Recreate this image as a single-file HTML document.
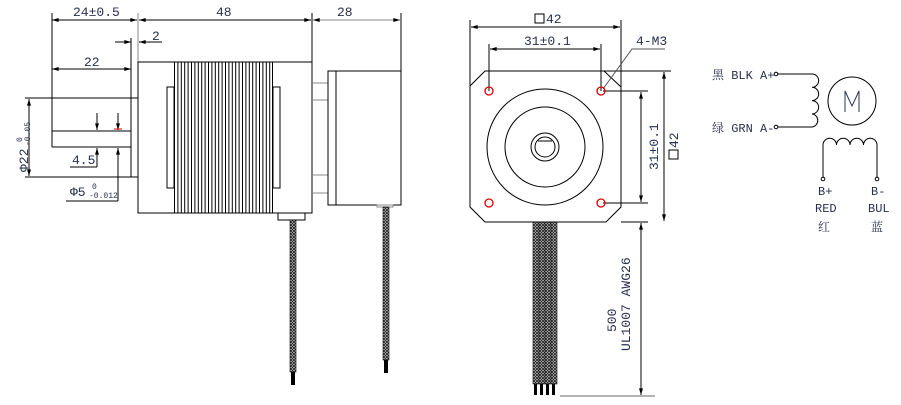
<!DOCTYPE html>
<html><head><meta charset="utf-8"><style>
html,body{margin:0;padding:0;background:#fff;width:901px;height:405px;overflow:hidden}
text{font-family:"Liberation Mono","Noto Serif CJK SC",monospace;fill:#2a3050}
</style></head><body>
<svg width="901" height="405" viewBox="0 0 901 405" xmlns="http://www.w3.org/2000/svg">
<defs>
<pattern id="br" width="3" height="3" patternUnits="userSpaceOnUse">
<rect width="3" height="3" fill="#ddd"/>
<path d="M0,0L3,3M3,0L0,3" stroke="#222" stroke-width="0.9"/>
</pattern>
<marker id="a" viewBox="0 0 10 6" refX="10" refY="3" markerWidth="8" markerHeight="4" orient="auto-start-reverse"><path d="M0,0L10,3L0,6z" fill="#000"/></marker>
</defs>
<g stroke="#000" stroke-width="1" fill="none">
<line x1="52" y1="13" x2="52" y2="147"/>
<line x1="138" y1="13" x2="138" y2="62" stroke="#888"/>
<line x1="312" y1="13" x2="312" y2="62"/>
<line x1="401" y1="13" x2="401" y2="71"/>
<line x1="52" y1="20" x2="137" y2="20" marker-start="url(#a)" marker-end="url(#a)"/>
<line x1="139" y1="20" x2="311" y2="20" marker-start="url(#a)" marker-end="url(#a)"/>
<line x1="313" y1="20" x2="400" y2="20" marker-start="url(#a)" marker-end="url(#a)" stroke="#888"/>
<line x1="115" y1="42" x2="131" y2="42" marker-end="url(#a)"/>
<line x1="162" y1="42" x2="139" y2="42" marker-end="url(#a)"/>
<line x1="131" y1="38" x2="131" y2="177"/>
<line x1="52" y1="69" x2="131" y2="69" marker-start="url(#a)" marker-end="url(#a)"/>
<line x1="52" y1="131" x2="131" y2="131"/>
<line x1="52" y1="147" x2="131" y2="147"/>
<line x1="25" y1="98" x2="138" y2="98"/>
<line x1="25" y1="177" x2="138" y2="177"/>
<line x1="29" y1="99" x2="29" y2="176" marker-start="url(#a)" marker-end="url(#a)"/>
<line x1="97" y1="113" x2="97" y2="130" marker-end="url(#a)"/>
<line x1="97" y1="167" x2="97" y2="148" marker-end="url(#a)"/>
<line x1="70" y1="167" x2="97" y2="167"/>
<line x1="118" y1="113" x2="118" y2="130" marker-end="url(#a)"/>
<line x1="118" y1="201" x2="118" y2="148" marker-end="url(#a)"/>
<line x1="66" y1="201" x2="118" y2="201"/>
<line x1="114" y1="129" x2="122" y2="129" stroke="#d00"/>
<rect x="138" y="62" width="174" height="151"/>
<rect x="167" y="87" width="7" height="101"/>
<rect x="273" y="87" width="7" height="101"/>
<g>
<line x1="174.5" y1="62" x2="174.5" y2="213"/><line x1="177.9" y1="62" x2="177.9" y2="213"/><line x1="181.3" y1="62" x2="181.3" y2="213"/><line x1="184.7" y1="62" x2="184.7" y2="213"/><line x1="188.1" y1="62" x2="188.1" y2="213"/><line x1="191.5" y1="62" x2="191.5" y2="213"/><line x1="194.9" y1="62" x2="194.9" y2="213"/><line x1="198.3" y1="62" x2="198.3" y2="213"/><line x1="201.7" y1="62" x2="201.7" y2="213"/><line x1="205.1" y1="62" x2="205.1" y2="213"/><line x1="208.5" y1="62" x2="208.5" y2="213"/><line x1="211.9" y1="62" x2="211.9" y2="213"/><line x1="215.3" y1="62" x2="215.3" y2="213"/><line x1="218.7" y1="62" x2="218.7" y2="213"/><line x1="222.1" y1="62" x2="222.1" y2="213"/><line x1="225.5" y1="62" x2="225.5" y2="213"/><line x1="228.9" y1="62" x2="228.9" y2="213"/><line x1="232.3" y1="62" x2="232.3" y2="213"/><line x1="235.7" y1="62" x2="235.7" y2="213"/><line x1="239.1" y1="62" x2="239.1" y2="213"/><line x1="242.5" y1="62" x2="242.5" y2="213"/><line x1="245.9" y1="62" x2="245.9" y2="213"/><line x1="249.3" y1="62" x2="249.3" y2="213"/><line x1="252.7" y1="62" x2="252.7" y2="213"/><line x1="256.1" y1="62" x2="256.1" y2="213"/><line x1="259.5" y1="62" x2="259.5" y2="213"/><line x1="262.9" y1="62" x2="262.9" y2="213"/><line x1="266.3" y1="62" x2="266.3" y2="213"/><line x1="269.7" y1="62" x2="269.7" y2="213"/><line x1="272.5" y1="62" x2="272.5" y2="213"/>
</g>
<g stroke="#888"><line x1="312" y1="83" x2="328" y2="83"/><line x1="312" y1="100" x2="328" y2="100"/><line x1="312" y1="175" x2="328" y2="175"/><line x1="312" y1="193" x2="328" y2="193"/></g>
<rect x="328" y="71" width="73" height="134"/>
<line x1="336" y1="71" x2="336" y2="205"/>
<rect x="278" y="213" width="27" height="7"/>
<rect x="377" y="205" width="16" height="2" stroke="#888"/>
</g>
<rect x="290" y="220" width="6" height="152" fill="url(#br)" stroke="#000" stroke-width="0.6"/>
<rect x="291" y="372" width="4" height="13" fill="#000"/>
<rect x="383" y="207" width="6" height="153" fill="url(#br)" stroke="#000" stroke-width="0.6"/>
<rect x="384" y="360" width="4" height="13" fill="#000"/>
<text x="73" y="16" font-size="13">24±0.5</text>
<text x="216" y="16" font-size="13">48</text>
<text x="337" y="16" font-size="13">28</text>
<text x="152" y="40" font-size="13">2</text>
<text x="84" y="66" font-size="13">22</text>
<text x="72" y="164" font-size="13">4.5</text>
<text x="70" y="196" font-size="13">Φ5</text>
<text x="92" y="189" font-size="8">0</text>
<text x="89" y="198" font-size="8">-0.012</text>
<text transform="translate(28,172) rotate(-90)" font-size="13">Φ22</text>
<text transform="translate(22,142) rotate(-90)" font-size="8">0</text>
<text transform="translate(30,146) rotate(-90)" font-size="8">-0.05</text>

<g stroke="#000" stroke-width="1" fill="none">
<path d="M485,71L604,71L621,87L621,207L606,222L485,222L470,207L470,86Z"/>
<line x1="604" y1="71" x2="671" y2="71"/>
<line x1="621" y1="222" x2="648" y2="222"/>
<line x1="470" y1="20" x2="470" y2="86"/>
<line x1="621" y1="20" x2="621" y2="87"/>
<line x1="471" y1="27" x2="620" y2="27" marker-start="url(#a)" marker-end="url(#a)"/>
<line x1="489" y1="44" x2="489" y2="91"/>
<line x1="601" y1="44" x2="601" y2="91"/>
<line x1="490" y1="49" x2="600" y2="49" marker-start="url(#a)" marker-end="url(#a)"/>
<polyline points="665,49 632,49 603,89" stroke="#555"/>
<line x1="603" y1="91" x2="648" y2="91"/>
<line x1="603" y1="203" x2="648" y2="203"/>
<line x1="641" y1="92" x2="641" y2="202" marker-start="url(#a)" marker-end="url(#a)"/>
<line x1="664" y1="72" x2="664" y2="221" marker-start="url(#a)" marker-end="url(#a)"/>
<circle cx="545" cy="147" r="58"/>
<circle cx="545" cy="147" r="40"/>
<circle cx="545" cy="147" r="14"/>
<circle cx="545" cy="147" r="10"/>
<line x1="538" y1="141" x2="552" y2="141"/>
<g stroke="#d00" stroke-width="1.3"><circle cx="489" cy="91" r="4"/><circle cx="601" cy="91" r="4"/><circle cx="489" cy="203" r="4"/><circle cx="601" cy="203" r="4"/></g>
<line x1="641" y1="223" x2="641" y2="395" marker-start="url(#a)" marker-end="url(#a)"/>
<line x1="560" y1="396" x2="655" y2="396" stroke="#999" stroke-width="1.5"/>
</g>
<rect x="533" y="222" width="24" height="162" fill="url(#br)" stroke="#000" stroke-width="0.6"/>
<g stroke="#000" stroke-width="0.6"><line x1="539" y1="222" x2="539" y2="384"/><line x1="545" y1="222" x2="545" y2="384"/><line x1="551" y1="222" x2="551" y2="384"/></g>
<g fill="#000"><rect x="534" y="384" width="3" height="11"/><rect x="540" y="384" width="3" height="11"/><rect x="546" y="384" width="3" height="11"/><rect x="552" y="384" width="3" height="11"/></g>
<rect x="535" y="14" width="9" height="9" fill="none" stroke="#000"/>
<text x="546" y="23" font-size="13">42</text>
<text x="524" y="45" font-size="13">31±0.1</text>
<text x="636" y="45" font-size="13">4-M3</text>
<text transform="translate(658,170) rotate(-90)" font-size="13">31±0.1</text>
<rect x="669" y="150" width="9" height="9" fill="none" stroke="#000"/>
<text transform="translate(678,148) rotate(-90)" font-size="13">42</text>
<text transform="translate(616,332) rotate(-90)" font-size="13">500</text>
<text transform="translate(630,351) rotate(-90)" font-size="13">UL1007 AWG26</text>

<g stroke="#000" stroke-width="1" fill="none">
<circle cx="776" cy="74" r="1.8"/>
<circle cx="776" cy="127" r="1.8"/>
<path d="M778,74L812,74A6.6,6.6 0 0 1 812,87.3A6.6,6.6 0 0 1 812,100.6A6.6,6.6 0 0 1 812,113.9A6.6,6.6 0 0 1 812,127L778,127"/>
<circle cx="852" cy="101" r="24"/>
<path d="M823,177L823,145A6.75,6.75 0 0 1 836.5,145A6.75,6.75 0 0 1 850,145A6.75,6.75 0 0 1 863.5,145A6.75,6.75 0 0 1 877,145L877,177"/>
<circle cx="823" cy="179" r="1.8"/>
<circle cx="877" cy="179" r="1.8"/>
</g>
<path d="M845,112L845,91L852,106L859,91L859,112" fill="none" stroke="#2a3050" stroke-width="1"/>
<text x="712" y="79" font-size="12">黑 BLK A+</text>
<text x="712" y="132" font-size="12">绿 GRN A-</text>
<text x="818" y="195" font-size="12">B+</text>
<text x="815" y="212" font-size="12">RED</text>
<text x="818" y="231" font-size="12">红</text>
<text x="871" y="195" font-size="12">B-</text>
<text x="868" y="212" font-size="12">BUL</text>
<text x="871" y="231" font-size="12">蓝</text>
</svg>
</body></html>
